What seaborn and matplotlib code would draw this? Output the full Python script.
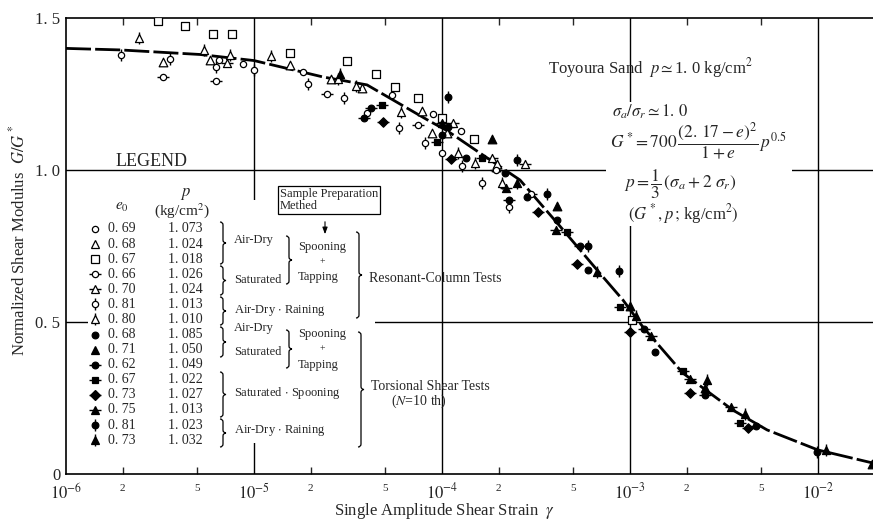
import numpy as np
import pandas as pd
import matplotlib
matplotlib.use("Agg")
import matplotlib.pyplot as plt
import matplotlib.ticker as mticker
from matplotlib.path import Path
from matplotlib.patches import PathPatch, Rectangle
import seaborn as sns

# 곡선 (fitted curve)
curve_strain = [1e-6, 1.94e-6, 5.16e-6, 1e-5, 2.33e-5, 3.99e-5, 8.63e-5, 1.06e-4, 1.59e-4,
                2.6e-4, 4.27e-4, 6.92e-4, 9.18e-4, 1.17e-3, 1.91e-3, 3.53e-3, 5.36e-3, 1e-2, 1.96e-2]
curve_G = [1.40, 1.395, 1.38, 1.36, 1.306, 1.28, 1.16, 1.13, 1.056,
           0.967, 0.813, 0.66, 0.572, 0.484, 0.332, 0.21, 0.145, 0.079, 0.036]

# 범례 값
e0_vals = [0.69, 0.68, 0.67, 0.66, 0.70, 0.81, 0.80, 0.68, 0.71, 0.62, 0.67, 0.73, 0.75, 0.81, 0.73]
p_vals = [1.073, 1.024, 1.018, 1.026, 1.024, 1.013, 1.010, 1.085, 1.050, 1.049, 1.022, 1.027, 1.013, 1.023, 1.032]

# 시리즈별 데이터 (strain, G/G*)
s1_x = [6.5e-6, 8.77e-6, 1.82e-5, 4.0e-5, 5.4e-5, 9.0e-5, 1.0e-4, 1.26e-4]
s1_y = [1.362, 1.348, 1.323, 1.187, 1.247, 1.184, 1.055, 1.129]
s2_x = [3.27e-6, 5.83e-6, 1.55e-5, 2.56e-5, 3.74e-5, 7.8e-5, 8.8e-5, 1.06e-4, 1.93e-4, 1.97e-4]
s2_y = [1.356, 1.362, 1.345, 1.298, 1.271, 1.195, 1.121, 1.121, 1.009, 1.02]
s3_x = [3.1e-6, 4.3e-6, 6.03e-6, 7.67e-6, 1.55e-5, 3.11e-5, 4.46e-5, 5.62e-5, 7.48e-5, 9.96e-5, 1.48e-4, 1.02e-3]
s3_y = [1.49, 1.474, 1.446, 1.446, 1.384, 1.36, 1.316, 1.272, 1.236, 1.17, 1.101, 0.507]
s4_x = [3.29e-6, 6.28e-6, 2.44e-5, 7.48e-5, 1.94e-4, 2.96e-4]
s4_y = [1.307, 1.294, 1.249, 1.148, 1.0, 0.921]
s5_x = [7.16e-6, 1.15e-4, 1.84e-4, 2.76e-4]
s5_y = [1.353, 1.156, 1.038, 1.019]
s6_x = [1.96e-6, 3.57e-6, 6.28e-6, 1.0e-5, 1.94e-5, 3.01e-5, 5.9e-5, 8.1e-5, 1.27e-4, 1.63e-4, 2.28e-4]
s6_y = [1.378, 1.364, 1.338, 1.329, 1.283, 1.238, 1.137, 1.088, 1.013, 0.956, 0.879]
s7_x = [2.45e-6, 5.42e-6, 7.45e-6, 1.23e-5, 2.8e-5, 3.49e-5, 6.03e-5, 1.22e-4, 1.5e-4, 2.08e-4]
s7_y = [1.434, 1.395, 1.378, 1.376, 1.298, 1.277, 1.192, 1.055, 1.022, 0.956]
s8_x = [1.0e-4, 1.34e-4, 2.16e-4, 2.82e-4, 4.1e-4, 6.0e-4, 1.36e-3]
s8_y = [1.115, 1.038, 0.989, 0.91, 0.836, 0.671, 0.40]
s9_x = [1.85e-4, 4.1e-4, 1.0e-3, 2.5e-3, 1.93e-2]
s9_y = [1.102, 0.882, 0.553, 0.282, 0.033]
s10_x = [3.86e-5, 4.18e-5, 1.07e-4, 2.28e-4, 5.42e-4, 1.18e-3, 2.5e-3, 4.68e-3]
s10_y = [1.17, 1.205, 1.14, 0.901, 0.75, 0.477, 0.26, 0.158]
s11_x = [4.78e-5, 9.4e-5, 1.64e-4, 4.64e-4, 8.85e-4, 1.91e-3, 3.85e-3]
s11_y = [1.214, 1.093, 1.038, 0.797, 0.548, 0.34, 0.169]
s12_x = [4.87e-5, 1.12e-4, 3.25e-4, 5.2e-4, 1.0e-3, 2.08e-3, 4.26e-3]
s12_y = [1.157, 1.036, 0.863, 0.691, 0.468, 0.265, 0.15]
s13_x = [1.0e-4, 2.2e-4, 4.04e-4, 1.29e-3, 2.08e-3, 3.44e-3]
s13_y = [1.154, 0.94, 0.803, 0.454, 0.311, 0.219]
s14_x = [1.07e-4, 2.5e-4, 3.63e-4, 6.0e-4, 8.77e-4, 9.84e-3]
s14_y = [1.239, 1.033, 0.921, 0.75, 0.669, 0.073]
s15_x = [2.87e-5, 2.5e-4, 6.7e-4, 1.08e-3, 2.56e-3, 4.09e-3, 1.1e-2]
s15_y = [1.315, 0.958, 0.666, 0.52, 0.309, 0.197, 0.079]

xs = [s1_x, s2_x, s3_x, s4_x, s5_x, s6_x, s7_x, s8_x, s9_x, s10_x, s11_x, s12_x, s13_x, s14_x, s15_x]
ys = [s1_y, s2_y, s3_y, s4_y, s5_y, s6_y, s7_y, s8_y, s9_y, s10_y, s11_y, s12_y, s13_y, s14_y, s15_y]

# 마커 모양: (marker, size, filled, bar)
styles = [("o", 4.5, False, None), ("^", 6.2, False, None), ("s", 5.2, False, None),
          ("o", 4.5, False, "_"), ("^", 5.8, False, "_"), ("o", 4.5, False, "|"),
          ("^", 5.8, False, "|"), ("o", 4.8, True, None), ("^", 6.2, True, None),
          ("o", 4.8, True, "_"), ("s", 4.8, True, "_"), ("D", 4.8, True, "_"),
          ("^", 5.8, True, "_"), ("o", 4.8, True, "|"), ("^", 5.8, True, "|")]

rows = []
for k in range(15):
    for a, b in zip(xs[k], ys[k]):
        rows.append({"series": k, "strain": a, "G": b})
df = pd.DataFrame(rows)

W, H = 873, 524
sns.set_style("white")
plt.rcParams['font.family'] = ['Liberation Serif', 'DejaVu Serif']
plt.rcParams['mathtext.fontset'] = 'stix'

fig = plt.figure(figsize=(W / 100, H / 100), dpi=100)
ax = fig.add_axes([66 / W, 50 / H, 807 / W, 456 / H])
ax.set_xscale("log")

def F(px, py):
    return (px / W, 1 - py / H)

# 격자선
for v in [1e-5, 1e-4, 1e-3, 1e-2]:
    ax.axvline(v, color="black", lw=1.0, zorder=1)
for v in [0.5, 1.0]:
    ax.axhline(v, color="black", lw=1.0, zorder=1)

# 범례 영역, 수식 영역 흰 배경
for (a, b, c, d) in [(88, 200, 375, 443), (606, 102, 792, 226)]:
    x0, y0 = F(a, d)
    x1, y1 = F(c, b)
    ax.add_patch(Rectangle((x0, y0), x1 - x0, y1 - y0, transform=fig.transFigure,
                           facecolor="white", edgecolor="none", zorder=1.5))

# 곡선
sns.lineplot(x=curve_strain, y=curve_G, ax=ax, color="black", lw=2.0,
             linestyle=(0, (9, 1.5)), zorder=3)

# 데이터 점
for k, (m, ms, filled, bar) in enumerate(styles):
    sub = df[df["series"] == k]
    if bar:
        ax.plot(sub["strain"], sub["G"], ls="none", marker=bar, ms=9, mew=1.0,
                color="black", zorder=4)
    sns.scatterplot(data=sub, x="strain", y="G", ax=ax, marker=m, s=ms ** 2,
                    color="black" if filled else "white", edgecolor="black",
                    linewidth=0.9, zorder=5, legend=False)

ax.set_xlim(1e-6, 10 ** (-6 + 807 / 188))
ax.set_ylim(0, 1.5)

# 축 눈금
ax.xaxis.set_major_locator(mticker.LogLocator(base=10, numticks=10))
ax.xaxis.set_major_formatter(mticker.FuncFormatter(
    lambda v, pos: r"$10^{%d}$" % int(round(np.log10(v)))))
ax.xaxis.set_minor_locator(mticker.LogLocator(base=10, subs=[2, 5], numticks=20))
ax.xaxis.set_minor_formatter(mticker.FuncFormatter(
    lambda v, pos: "%d" % int(round(v / 10 ** np.floor(np.log10(v) + 1e-9)))))
ax.tick_params(axis="x", which="major", direction="in", length=0, labelsize=12, pad=6)
ax.tick_params(axis="x", which="minor", direction="in", length=5, width=1,
               top=True, bottom=True, labelsize=8, pad=7)
ax.set_yticks([0, 0.5, 1.0, 1.5])
ax.set_yticklabels(["0", "0. 5", "1. 0", "1. 5"])
ax.tick_params(axis="y", direction="in", length=0, labelsize=12, pad=4)
ax.set_xlabel("")
ax.set_ylabel("")
for s in ["left", "bottom", "top"]:
    ax.spines[s].set_linewidth(1.2)
    ax.spines[s].set_color("black")
ax.spines["right"].set_visible(False)

# 축 제목
fig.text(*F(18, 240), r"Normalized Shear Modulus  $G/G^*$", rotation=90,
         ha="center", va="center", fontsize=12)
fig.text(*F(445, 511), r"Single Amplitude Shear Strain  $\gamma$",
         ha="center", va="center", fontsize=12)

# 오른쪽 주석
def ftext(px, py, s, **kw):
    kw.setdefault("fontsize", 10)
    kw.setdefault("ha", "left")
    kw.setdefault("va", "center")
    ax.text(*F(px, py), s, transform=fig.transFigure, zorder=2, **kw)

ftext(548, 68, r"Toyoura Sand  $p$$\simeq$1. 0 kg/cm$^2$", fontsize=12)
ftext(612, 112, r"$\sigma_a/\sigma_r\simeq1.\,0$", fontsize=12)
ftext(610, 141, r"$G^*\!=700\,\dfrac{(2.\,17-e)^2}{1+e}\,p^{0.5}$", fontsize=12.5)
ftext(624, 184, r"$p=\dfrac{1}{3}\,(\sigma_a+2\ \sigma_r)$", fontsize=12.5)
ftext(628, 214, r"$(G^*, p\,;\,$kg/cm$^2)$", fontsize=12)

# 범례
def brace(x, ya, yb, w=3):
    ym = (ya + yb) / 2
    pts = [(x, ya), (x + w, ya), (x + w, ya + w), (x + w, ym - w), (x + w, ym),
           (x + 2 * w, ym), (x + w, ym), (x + w, ym + w), (x + w, yb - w), (x + w, yb), (x, yb)]
    codes = [Path.MOVETO, Path.CURVE3, Path.CURVE3, Path.LINETO, Path.CURVE3, Path.CURVE3,
             Path.CURVE3, Path.CURVE3, Path.LINETO, Path.CURVE3, Path.CURVE3]
    path = Path([F(a, b) for a, b in pts], codes)
    ax.add_patch(PathPatch(path, transform=fig.transFigure, facecolor="none",
                           edgecolor="black", lw=0.9, zorder=2))

ftext(152, 162, "LEGEND", fontsize=13, ha="center")
ftext(122, 207, r"$e_0$", fontsize=11, ha="center")
ftext(186, 194, r"$p$", fontsize=12, ha="center")
ftext(182, 211, r"(kg/cm$^2$)", fontsize=11, ha="center")

for i in range(15):
    py = 229 + i * 15.08
    m, ms, filled, bar = styles[i]
    fx, fy = F(95, py)
    if bar:
        ax.plot([fx], [fy], marker=bar, ms=9, mew=1.0, color="black",
                transform=fig.transFigure, clip_on=False, zorder=4)
    ax.plot([fx], [fy], marker=m, ms=ms, mfc="black" if filled else "white", mec="black",
            mew=0.9, transform=fig.transFigure, clip_on=False, zorder=5)
    ftext(108, py, ("%.2f" % e0_vals[i]).replace(".", ". "))
    ftext(168, py, ("%.3f" % p_vals[i]).replace(".", ". "))

brace(220, 222, 264)
ftext(234, 240, "Air-Dry", fontsize=9)
brace(220, 266, 295)
ftext(234, 280, "Saturated", fontsize=9)
brace(286, 236, 284)
ftext(298, 247, "Spooning", fontsize=9)
ftext(322, 262, "+", fontsize=7, ha="center")
ftext(298, 277, "Tapping", fontsize=9)
brace(220, 297, 325)
ftext(234, 310, "Air-Dry $\\cdot$ Raining", fontsize=9)
brace(356, 232, 318)
ftext(369, 278, "Resonant-Column Tests", fontsize=10)

ftext(280, 200, "Sample Preparation\nMethed", fontsize=9, linespacing=1.0,
      bbox=dict(facecolor="white", edgecolor="black", boxstyle="square,pad=0.15", lw=0.9))
ax.annotate("", xy=F(325, 237), xytext=F(325, 219), xycoords="figure fraction",
            textcoords="figure fraction",
            arrowprops=dict(arrowstyle="-|>,head_length=0.4,head_width=0.15", color="black", lw=0.8))

brace(220, 327, 357)
ftext(234, 328, "Air-Dry", fontsize=9)
ftext(234, 352, "Saturated", fontsize=9)
brace(286, 330, 368)
ftext(298, 334, "Spooning", fontsize=9)
ftext(322, 349, "+", fontsize=7, ha="center")
ftext(298, 365, "Tapping", fontsize=9)
brace(220, 372, 417)
ftext(234, 393, "Saturated $\\cdot$ Spooning", fontsize=9)
brace(220, 419, 447)
ftext(234, 431, "Air-Dry $\\cdot$ Raining", fontsize=9)
brace(358, 332, 447)
ftext(371, 386, "Torsional Shear Tests", fontsize=10)
ftext(391, 401, r"($N$=10 th)", fontsize=10)

fig.savefig("out.png", dpi=100)
